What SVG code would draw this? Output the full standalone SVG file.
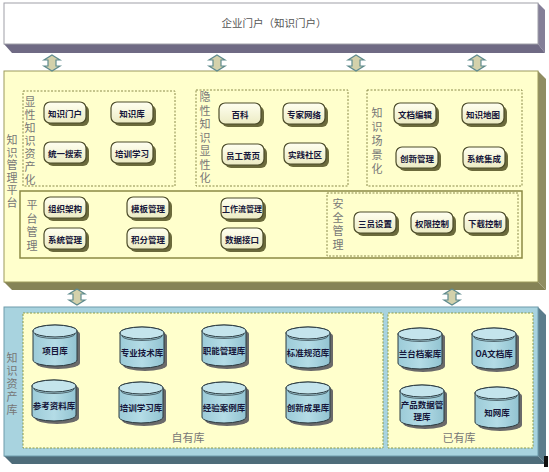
<svg xmlns="http://www.w3.org/2000/svg" xmlns:xlink="http://www.w3.org/1999/xlink" width="549" height="472" viewBox="0 0 549 472">
<style>
.lbl{font-family:"Noto Sans CJK SC","Noto Sans",sans-serif;font-size:11px;fill:#777;text-anchor:middle;dominant-baseline:central}
.vl{font-family:"Noto Sans CJK SC","Noto Sans",sans-serif;font-size:11px;fill:#777;writing-mode:vertical-rl;text-orientation:upright}
.bt{font-family:"Noto Sans CJK SC","Noto Sans",sans-serif;font-size:8.5px;font-weight:bold;fill:#16163a;text-anchor:middle;dominant-baseline:central}
.dash{fill:none;stroke:#8a8a4a;stroke-width:1;stroke-dasharray:2,1.5}
.arr{fill:#d3d1ab;stroke:#5f8b8e;stroke-width:1.2}
</style>
<defs>
<linearGradient id="btG" x1="0" y1="0" x2="0" y2="1"><stop offset="0" stop-color="#fffff0"/><stop offset="1" stop-color="#ecebc4"/></linearGradient>
<linearGradient id="cyG" x1="0" y1="0" x2="1" y2="0"><stop offset="0" stop-color="#9ccbd8"/><stop offset="0.5" stop-color="#b4dce6"/><stop offset="1" stop-color="#92c3d1"/></linearGradient>
<g id="btn">
<rect x="3" y="3" width="42" height="21" rx="6" fill="#6b6a3c"/>
<rect x="0" y="0" width="42" height="21" rx="6" fill="url(#btG)" stroke="#4c4c2a" stroke-width="1.2"/>
</g>
<g id="cyl">
<path d="M3,9 A22,6 0 0 1 47,9 V38 A22,6 0 0 1 3,38 Z" fill="#6a6a6a"/>
<path d="M0,6 A22,6 0 0 1 44,6 V35 A22,6 0 0 1 0,35 Z" fill="url(#cyG)" stroke="#2b3a40" stroke-width="1"/>
<ellipse cx="22" cy="6" rx="22" ry="6" fill="#c4e4ec" stroke="#2b3a40" stroke-width="1"/>
<path d="M2,9 A20,4.5 0 0 0 42,9" fill="none" stroke="#2b3a40" stroke-width="0.7"/>
</g>
<path id="dbl" d="M0,0 L8,5 L4,5 L4,11 L8,11 L0,16 L-8,11 L-4,11 L-4,5 L-8,5 Z"/>
</defs>

<g id="portal">
<polygon points="538,3 545,10 545,53 538,44" fill="#847f98"/>
<polygon points="4,44 538,44 545,53 12,53" fill="#6f6a84"/>
<rect x="4" y="3" width="534" height="41" fill="#ffffff" stroke="#a0a0a8" stroke-width="1"/>
<text x="274" y="22" style="font-family:'Noto Sans CJK SC','Noto Sans',sans-serif;font-size:10.5px;fill:#555;text-anchor:middle;dominant-baseline:central">企业门户（知识门户）</text>
</g>

<g id="platform">
<polygon points="538,71 546,79 546,290 538,282" fill="#8f8d62"/>
<polygon points="4,282 538,282 546,290 12,290" fill="#858356"/>
<rect x="4" y="71" width="534" height="211" fill="#ffffcc" stroke="#9c9a5c" stroke-width="1"/>
<text class="vl" x="12" y="134.5" style="letter-spacing:1.5px">知识管理平台</text>
</g>

<g id="explicit">
<rect class="dash" x="23" y="91" width="152" height="95"/>
<text class="vl" x="30" y="96.5" style="letter-spacing:2px">显性知识资产化</text>
<use xlink:href="#btn" x="44" y="102"/><text class="bt" x="65" y="112.5">知识门户</text>
<use xlink:href="#btn" x="111" y="102"/><text class="bt" x="132" y="112.5">知识库</text>
<use xlink:href="#btn" x="44" y="142"/><text class="bt" x="65" y="152.5">统一搜索</text>
<use xlink:href="#btn" x="111" y="142"/><text class="bt" x="132" y="152.5">培训学习</text>
</g>

<g id="tacit">
<rect class="dash" x="196" y="90" width="152" height="96"/>
<text class="vl" x="205" y="91.5" style="letter-spacing:2.5px">隐性知识显性化</text>
<use xlink:href="#btn" x="219" y="103"/><text class="bt" x="240" y="113.5">百科</text>
<use xlink:href="#btn" x="283" y="103"/><text class="bt" x="304" y="113.5">专家网络</text>
<use xlink:href="#btn" x="222" y="144"/><text class="bt" x="243" y="154.5">员工黄页</text>
<use xlink:href="#btn" x="284" y="143"/><text class="bt" x="305" y="153.5">实践社区</text>
</g>

<g id="scene">
<rect class="dash" x="367" y="90" width="155" height="96"/>
<text class="vl" x="377" y="107.5" style="letter-spacing:3px">知识场景化</text>
<use xlink:href="#btn" x="394" y="103"/><text class="bt" x="415" y="113.5">文档编辑</text>
<use xlink:href="#btn" x="462" y="103"/><text class="bt" x="483" y="113.5">知识地图</text>
<use xlink:href="#btn" x="396" y="147"/><text class="bt" x="417" y="157.5">创新管理</text>
<use xlink:href="#btn" x="463" y="147"/><text class="bt" x="484" y="157.5">系统集成</text>
</g>

<g id="mgmt">
<rect x="20" y="191" width="502" height="67" fill="#ffffcc" stroke="#8c8a44" stroke-width="1.5"/>
<text class="vl" x="32" y="199.5" style="letter-spacing:2.5px">平台管理</text>
<use xlink:href="#btn" x="44" y="197"/><text class="bt" x="65" y="207.5">组织架构</text>
<use xlink:href="#btn" x="127" y="197"/><text class="bt" x="148" y="207.5">模板管理</text>
<use xlink:href="#btn" x="221" y="198"/><text class="bt" x="242" y="208.5" style="font-size:8px">工作流管理</text>
<use xlink:href="#btn" x="44" y="228"/><text class="bt" x="65" y="238.5">系统管理</text>
<use xlink:href="#btn" x="127" y="228"/><text class="bt" x="148" y="238.5">积分管理</text>
<use xlink:href="#btn" x="221" y="228"/><text class="bt" x="242" y="238.5">数据接口</text>
</g>

<g id="security">
<rect class="dash" x="327" y="193" width="191" height="63"/>
<text class="vl" x="338" y="198.5" style="letter-spacing:2.5px">安全管理</text>
<use xlink:href="#btn" x="354" y="212"/><text class="bt" x="375" y="222.5">三员设置</text>
<use xlink:href="#btn" x="411" y="212"/><text class="bt" x="432" y="222.5">权限控制</text>
<use xlink:href="#btn" x="464" y="212"/><text class="bt" x="485" y="222.5">下载控制</text>
</g>

<g id="assets">
<polygon points="538,307 546,315 546,464 538,456" fill="#5b7d8c"/>
<polygon points="4,456 538,456 546,464 12,464" fill="#4e6c7a"/>
<rect x="4" y="307" width="534" height="149" fill="#a8d3df" stroke="#6f9cac" stroke-width="1"/>
<text class="vl" x="12" y="352.5" style="letter-spacing:2px">知识资产库</text>
</g>

<g id="own">
<rect x="23" y="313" width="360" height="135" fill="#ffffcc" stroke="#8a9a4a" stroke-width="1" stroke-dasharray="2,1.5"/>
<text class="lbl" x="188" y="437">自有库</text>
<use xlink:href="#cyl" x="33" y="325"/><text class="bt" x="55" y="350">项目库</text>
<use xlink:href="#cyl" x="120" y="327"/><text class="bt" x="142" y="352">专业技术库</text>
<use xlink:href="#cyl" x="202" y="325"/><text class="bt" x="224" y="350">职能管理库</text>
<use xlink:href="#cyl" x="286" y="327"/><text class="bt" x="308" y="352">标准规范库</text>
<use xlink:href="#cyl" x="32" y="380"/><text class="bt" x="54" y="405">参考资料库</text>
<use xlink:href="#cyl" x="119" y="382"/><text class="bt" x="141" y="407">培训学习库</text>
<use xlink:href="#cyl" x="202" y="382"/><text class="bt" x="224" y="407">经验案例库</text>
<use xlink:href="#cyl" x="286" y="382"/><text class="bt" x="308" y="407">创新成果库</text>
</g>

<g id="existing">
<rect x="388" y="313" width="145" height="135" fill="#ffffcc" stroke="#8a9a4a" stroke-width="1" stroke-dasharray="2,1.5"/>
<text class="lbl" x="459" y="437">已有库</text>
<use xlink:href="#cyl" x="398" y="328"/><text class="bt" x="420" y="353">兰台档案库</text>
<use xlink:href="#cyl" x="472" y="328"/><text class="bt" x="494" y="353">OA文档库</text>
<use xlink:href="#cyl" x="400" y="385"/><text class="bt"><tspan x="422" y="404">产品数据管</tspan><tspan x="422" y="416">理库</tspan></text>
<use xlink:href="#cyl" x="475" y="387"/><text class="bt" x="497" y="412">知网库</text>
</g>

<g id="connectors">
<use xlink:href="#dbl" class="arr" x="52" y="55"/>
<use xlink:href="#dbl" class="arr" x="217" y="55"/>
<use xlink:href="#dbl" class="arr" x="356" y="55"/>
<use xlink:href="#dbl" class="arr" x="477" y="55"/>
<use xlink:href="#dbl" class="arr" x="77" y="289"/>
<use xlink:href="#dbl" class="arr" x="452" y="289"/>
</g>
<rect x="544" y="456" width="4" height="11" fill="#111"/>
</svg>
